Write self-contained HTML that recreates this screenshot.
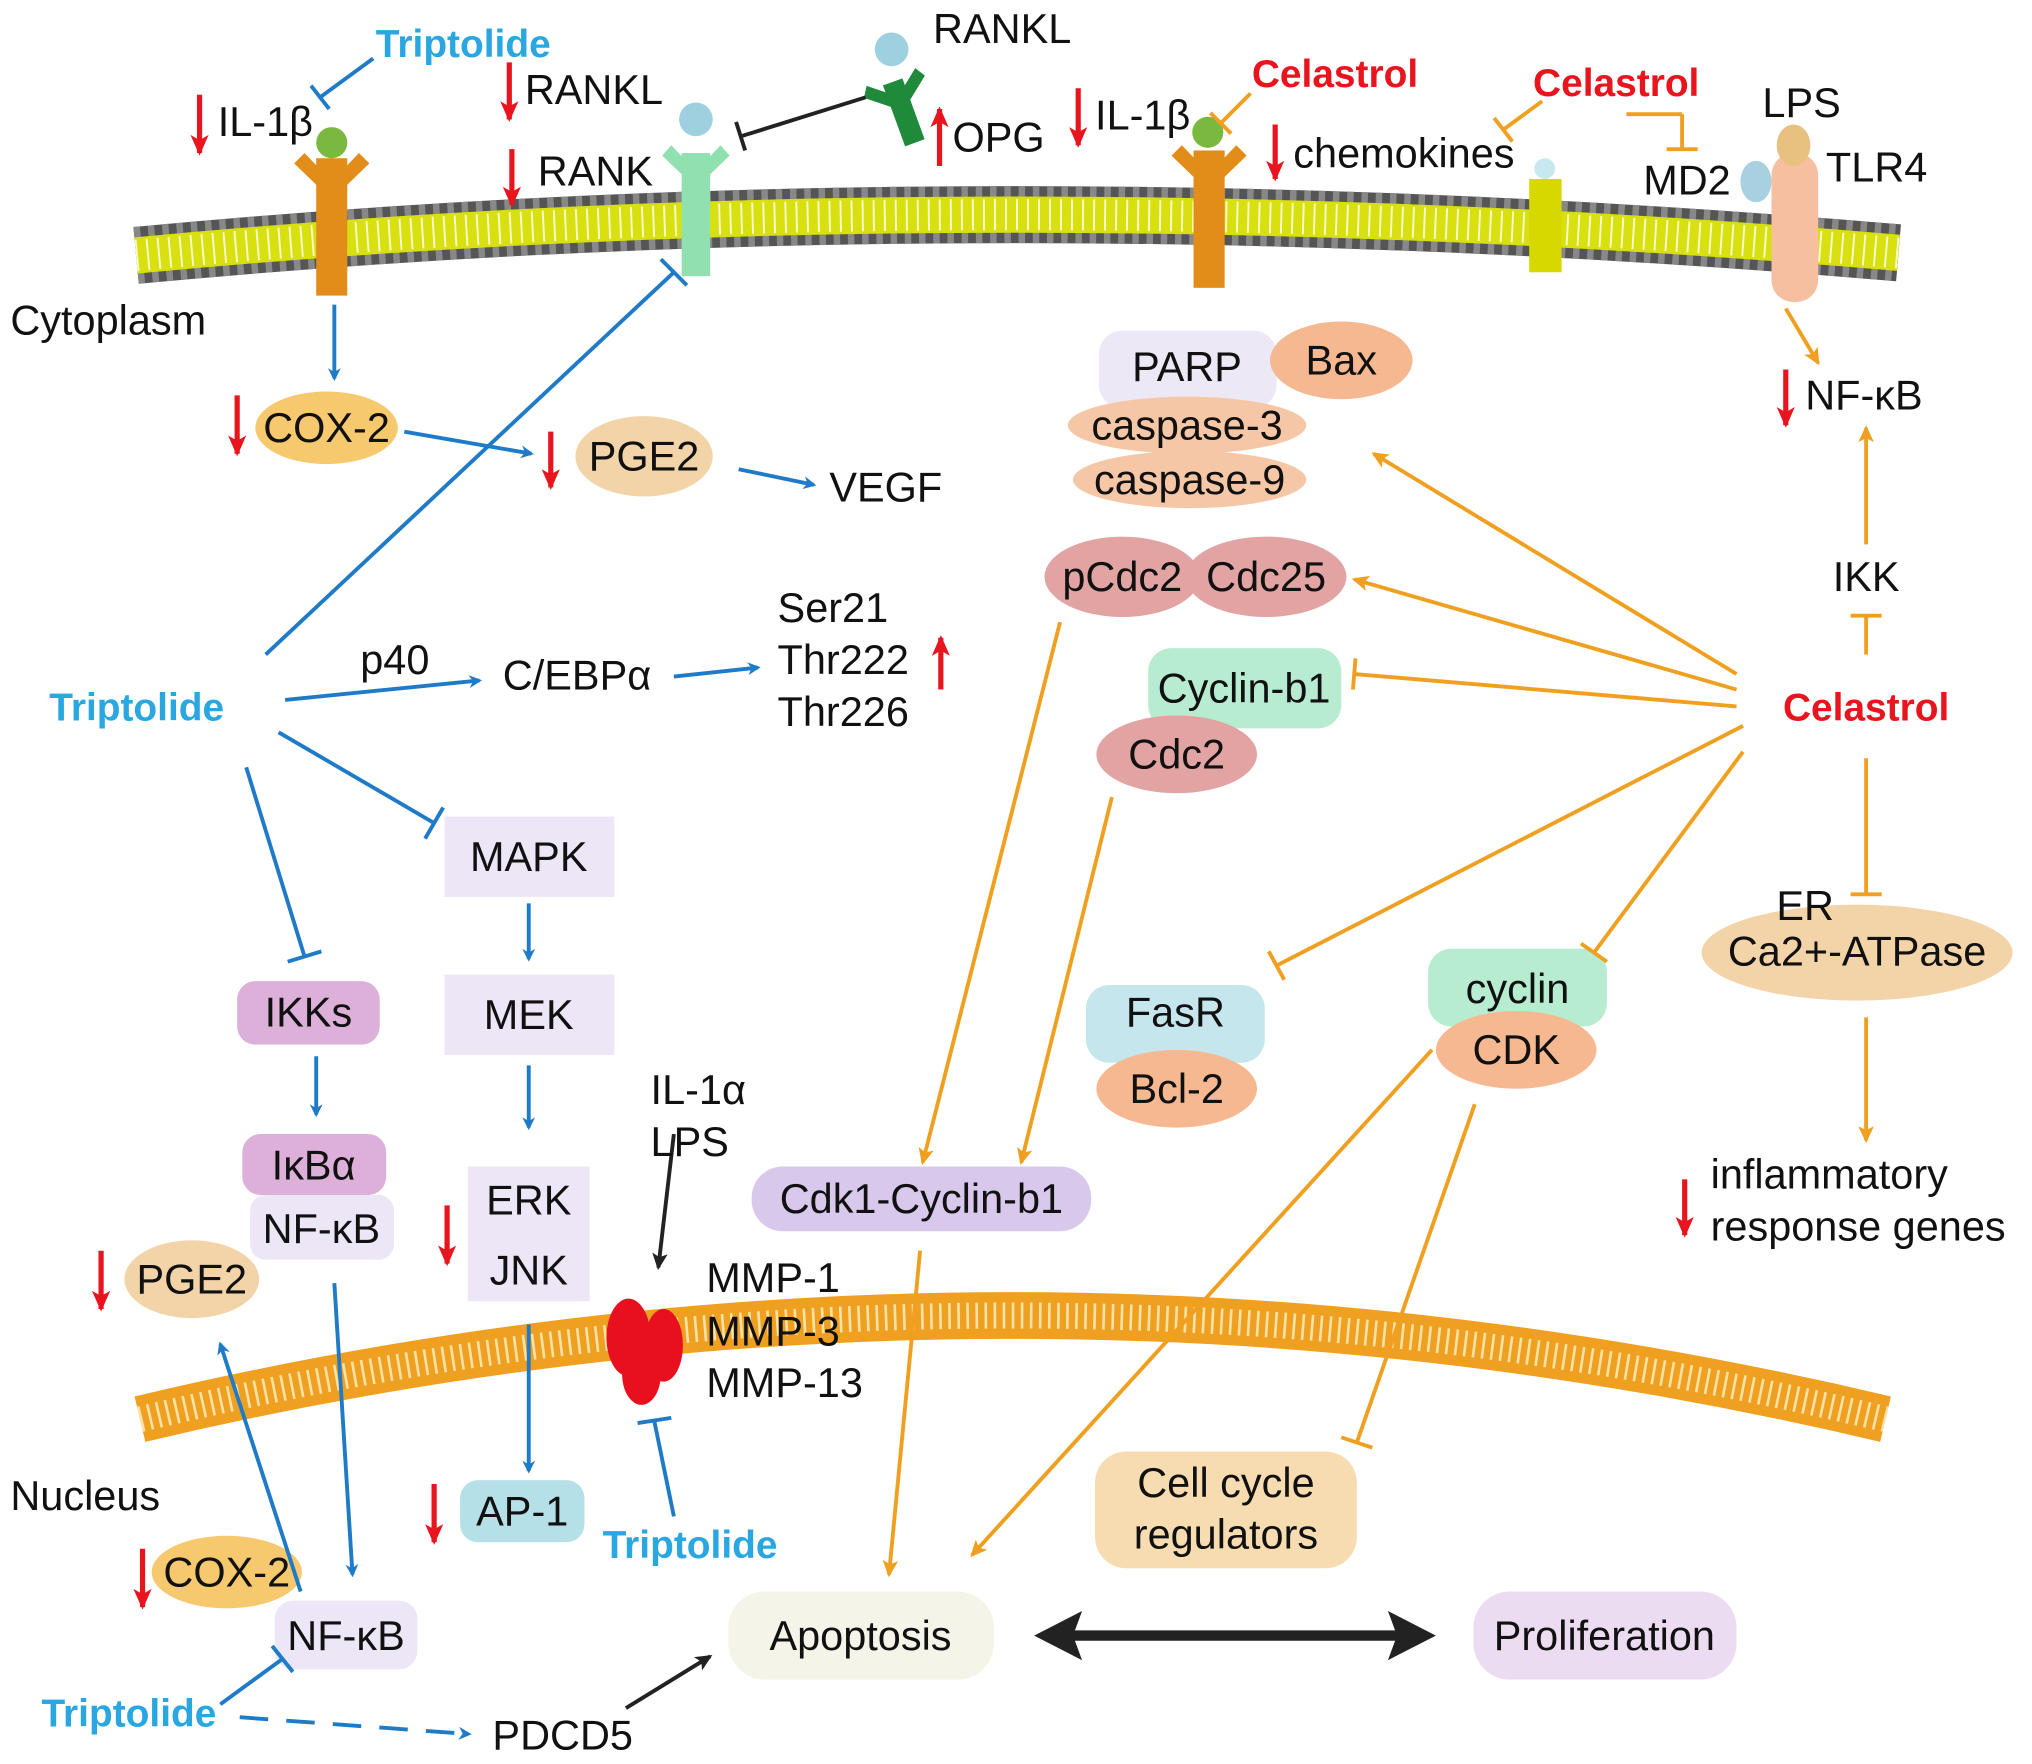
<!DOCTYPE html>
<html><head><meta charset="utf-8"><style>
html,body{margin:0;padding:0;background:#fff;}
svg{display:block;}
text{font-family:"Liberation Sans",Arial,sans-serif;font-size:32px;fill:#111;}
.tb{fill:#2aa7e0;font-weight:bold;font-size:30px;}
.cr{fill:#e8141e;font-weight:bold;font-size:30px;}
.m{text-anchor:middle;}
</style></head><body>
<svg width="2032" height="1764" viewBox="0 0 1568 1361" xmlns="http://www.w3.org/2000/svg">
<defs>
<marker id="ab" markerWidth="10" markerHeight="10" refX="8" refY="5" orient="auto" markerUnits="userSpaceOnUse" viewBox="0 0 10 10"><path d="M0,0 L10,5 L0,10 L3,5z" fill="#1f7bc8"/></marker>
<marker id="ao" markerWidth="14" markerHeight="14" refX="11" refY="7" orient="auto" markerUnits="userSpaceOnUse" viewBox="0 0 14 14"><path d="M0,1 L13,7 L0,13 L3,7z" fill="#f0a020"/></marker>
<marker id="ak" markerWidth="14" markerHeight="14" refX="11" refY="7" orient="auto" markerUnits="userSpaceOnUse" viewBox="0 0 14 14"><path d="M0,1 L13,7 L0,13 L3,7z" fill="#222"/></marker>
<marker id="ar" markerWidth="16" markerHeight="14" refX="14" refY="7" orient="auto" markerUnits="userSpaceOnUse" viewBox="0 0 16 14"><path d="M0,0 L16,7 L0,14 L4,7z" fill="#e8141e"/></marker>
</defs>

<path d="M105,197 Q760,135 1465,195" fill="none" stroke="#555" stroke-width="44"/>
<path d="M105,197 Q760,135 1465,195" fill="none" stroke="#888" stroke-width="44" stroke-dasharray="5 6"/>
<path d="M105,197 Q760,135 1465,195" fill="none" stroke="#d8e010" stroke-width="28"/>
<path d="M105,197 Q760,135 1465,195" fill="none" stroke="#fff" stroke-width="24" stroke-dasharray="1.5 7" opacity="0.8"/>

<path d="M108,1095 Q780,935 1455,1095" fill="none" stroke="#f0a020" stroke-width="36"/>
<path d="M108,1095 Q780,935 1455,1095" fill="none" stroke="#fbe3a8" stroke-width="20" stroke-dasharray="2 5"/>

<g fill="#e28c1a">
<rect x="244" y="122" width="24" height="106"/><path d="M235,118 L256,140 L277,118 L285,126 L256,154 L227,126z"/>
<rect x="921" y="116" width="24" height="106"/><path d="M912,112 L933,134 L954,112 L962,120 L933,148 L904,120z"/>
</g>
<circle cx="256" cy="110" r="12" fill="#7ab840"/><circle cx="932" cy="102" r="12" fill="#7ab840"/>
<rect x="526" y="118" width="22" height="95" fill="#90e0b0"/><path d="M518,112 L537,132 L556,112 L563,120 L537,145 L511,120z" fill="#90e0b0"/>
<circle cx="537" cy="92" r="13" fill="#9fd0e0"/>
<g transform="rotate(-20 695 80)"><rect x="687" y="62" width="16" height="50" fill="#1e8a3a"/><path d="M675,58 L695,74 L715,58 L720,66 L695,86 L670,66z" fill="#1e8a3a"/></g>
<circle cx="688" cy="38" r="13" fill="#9fd0e0"/>
<rect x="1180" y="138" width="25" height="72" fill="#d6d800"/><circle cx="1192" cy="130" r="8" fill="#c8e8f0"/>
<rect x="1367" y="118" width="36" height="115" rx="17" fill="#f6c0a0"/>
<ellipse cx="1384" cy="112" rx="13" ry="16" fill="#e8c080"/>
<ellipse cx="1355" cy="140" rx="12" ry="16" fill="#a8d0e0"/>

<g fill="#e8101e"><ellipse cx="485" cy="1032" rx="17" ry="30"/><ellipse cx="512" cy="1038" rx="15" ry="28"/><ellipse cx="495" cy="1060" rx="15" ry="24"/></g>

<g>
<ellipse cx="252" cy="330" rx="55" ry="28" fill="#f7c96e"/>
<ellipse cx="497" cy="352" rx="53" ry="31" fill="#f2d4a8"/>
<rect x="848" y="255" width="137" height="60" rx="18" fill="#ece8f6"/>
<ellipse cx="1035" cy="278" rx="55" ry="30" fill="#f6b891"/>
<ellipse cx="916" cy="328" rx="92" ry="22" fill="#f6c7a6"/>
<ellipse cx="918" cy="370" rx="90" ry="22" fill="#f6c7a6"/>
<ellipse cx="866" cy="445" rx="60" ry="31" fill="#e2a3a3"/>
<ellipse cx="977" cy="445" rx="62" ry="31" fill="#e2a3a3"/>
<rect x="886" y="500" width="149" height="62" rx="18" fill="#b8ecd0"/>
<ellipse cx="908" cy="582" rx="62" ry="30" fill="#e2a3a3"/>
<rect x="838" y="760" width="138" height="60" rx="18" fill="#c6e6ee"/>
<ellipse cx="908" cy="840" rx="62" ry="30" fill="#f6b891"/>
<rect x="1102" y="732" width="138" height="60" rx="18" fill="#b8ecd0"/>
<ellipse cx="1170" cy="810" rx="62" ry="30" fill="#f6b891"/>
<ellipse cx="1433" cy="735" rx="120" ry="37" fill="#f2d4a8"/>
<rect x="580" y="900" width="262" height="50" rx="24" fill="#d8c8ec"/>
<rect x="845" y="1120" width="202" height="90" rx="24" fill="#f6dcb0"/>
<rect x="562" y="1228" width="205" height="68" rx="28" fill="#f4f4e8"/>
<rect x="1137" y="1228" width="203" height="68" rx="28" fill="#ecdcf2"/>
<rect x="343" y="630" width="131" height="62" fill="#ece6f6"/>
<rect x="343" y="752" width="131" height="62" fill="#ece6f6"/>
<rect x="361" y="900" width="94" height="52" fill="#ece6f6"/>
<rect x="361" y="952" width="94" height="52" fill="#ece6f6"/>
<rect x="183" y="757" width="110" height="49" rx="14" fill="#dcb0d8"/>
<rect x="187" y="875" width="111" height="47" rx="14" fill="#dcb0d8"/>
<rect x="193" y="922" width="111" height="50" rx="12" fill="#ece6f6"/>
<ellipse cx="148" cy="987" rx="52" ry="30" fill="#f2d4a8"/>
<rect x="355" y="1142" width="96" height="48" rx="14" fill="#b6e0e8"/>
<ellipse cx="175" cy="1213" rx="58" ry="28" fill="#f7c96e"/>
<rect x="212" y="1235" width="110" height="53" rx="14" fill="#ece6f6"/>
</g>

<g stroke="#1f7bc8" stroke-width="3" fill="none">
<line x1="258" y1="235" x2="258" y2="292" marker-end="url(#ab)"/>
<line x1="312" y1="333" x2="410" y2="350" marker-end="url(#ab)"/>
<line x1="570" y1="362" x2="628" y2="374" marker-end="url(#ab)"/>
<line x1="205" y1="505" x2="520" y2="210"/><line x1="510" y1="200" x2="530" y2="220"/>
<line x1="220" y1="540" x2="370" y2="525" marker-end="url(#ab)"/>
<line x1="520" y1="522" x2="585" y2="515" marker-end="url(#ab)"/>
<line x1="215" y1="565" x2="335" y2="635"/><line x1="328" y1="647" x2="342" y2="623"/>
<line x1="190" y1="592" x2="235" y2="738"/><line x1="222" y1="742" x2="248" y2="734"/>
<line x1="408" y1="697" x2="408" y2="740" marker-end="url(#ab)"/>
<line x1="408" y1="822" x2="408" y2="870" marker-end="url(#ab)"/>
<line x1="244" y1="815" x2="244" y2="860" marker-end="url(#ab)"/>
<line x1="258" y1="990" x2="272" y2="1215" marker-end="url(#ab)"/>
<line x1="408" y1="1022" x2="408" y2="1135" marker-end="url(#ab)"/>
<line x1="232" y1="1228" x2="170" y2="1037" marker-end="url(#ab)"/>
<line x1="520" y1="1170" x2="505" y2="1097"/><line x1="492" y1="1098" x2="518" y2="1094"/>
<line x1="170" y1="1315" x2="218" y2="1280"/><line x1="210" y1="1270" x2="226" y2="1290"/>
<line x1="185" y1="1325" x2="362" y2="1338" stroke-dasharray="22 14" marker-end="url(#ab)"/>
<line x1="288" y1="45" x2="247" y2="75"/><line x1="240" y1="66" x2="254" y2="84"/>
</g>
<g stroke="#222" stroke-width="3" fill="none">
<line x1="668" y1="75" x2="572" y2="105"/><line x1="568" y1="94" x2="575" y2="116"/>
<line x1="520" y1="875" x2="508" y2="978" marker-end="url(#ak)"/>
<line x1="483" y1="1318" x2="548" y2="1278" marker-end="url(#ak)"/>
</g>
<line x1="820" y1="1262" x2="1085" y2="1262" stroke="#222" stroke-width="8"/>
<path d="M798,1262 L835,1243 L828,1262 L835,1281z M1108,1262 L1071,1243 L1078,1262 L1071,1281z" fill="#222"/>

<g stroke="#f0a020" stroke-width="3" fill="none">
<line x1="1340" y1="520" x2="1060" y2="350" marker-end="url(#ao)"/>
<line x1="1340" y1="532" x2="1045" y2="447" marker-end="url(#ao)"/>
<line x1="1340" y1="545" x2="1045" y2="520"/><line x1="1046" y1="508" x2="1044" y2="532"/>
<line x1="1345" y1="560" x2="985" y2="745"/><line x1="979" y1="734" x2="991" y2="756"/>
<line x1="1345" y1="580" x2="1230" y2="735"/><line x1="1220" y1="728" x2="1240" y2="742"/>
<line x1="1440" y1="585" x2="1440" y2="690"/><line x1="1428" y1="690" x2="1452" y2="690"/>
<line x1="1440" y1="505" x2="1440" y2="475"/><line x1="1428" y1="475" x2="1452" y2="475"/>
<line x1="1440" y1="420" x2="1440" y2="330" marker-end="url(#ao)"/>
<line x1="1378" y1="238" x2="1403" y2="280" marker-end="url(#ao)"/>
<line x1="1440" y1="785" x2="1440" y2="880" marker-end="url(#ao)"/>
<line x1="818" y1="480" x2="712" y2="897" marker-end="url(#ao)"/>
<line x1="858" y1="615" x2="788" y2="897" marker-end="url(#ao)"/>
<line x1="710" y1="965" x2="686" y2="1215" marker-end="url(#ao)"/>
<line x1="1105" y1="810" x2="750" y2="1200" marker-end="url(#ao)"/>
<line x1="1138" y1="852" x2="1047" y2="1113"/><line x1="1035" y1="1109" x2="1059" y2="1117"/>
<line x1="1190" y1="78" x2="1160" y2="100"/><line x1="1153" y1="91" x2="1167" y2="109"/>
<line x1="1255" y1="88" x2="1298" y2="88"/><line x1="1298" y1="88" x2="1298" y2="115"/><line x1="1286" y1="115" x2="1310" y2="115"/>
<line x1="965" y1="72" x2="942" y2="95"/><line x1="934" y1="87" x2="950" y2="103"/>
</g>

<g stroke="#e8141e" stroke-width="4" marker-end="url(#ar)">
<line x1="154" y1="73" x2="154" y2="118"/>
<line x1="393" y1="48" x2="393" y2="92"/>
<line x1="395" y1="115" x2="395" y2="158"/>
<line x1="183" y1="305" x2="183" y2="350"/>
<line x1="425" y1="333" x2="425" y2="376"/>
<line x1="832" y1="68" x2="832" y2="112"/>
<line x1="984" y1="96" x2="984" y2="138"/>
<line x1="1378" y1="285" x2="1378" y2="328"/>
<line x1="345" y1="930" x2="345" y2="975"/>
<line x1="78" y1="965" x2="78" y2="1010"/>
<line x1="335" y1="1145" x2="335" y2="1190"/>
<line x1="110" y1="1195" x2="110" y2="1240"/>
<line x1="1300" y1="910" x2="1300" y2="953"/>
<line x1="725" y1="128" x2="725" y2="84"/>
<line x1="726" y1="532" x2="726" y2="492"/>
</g>

<text x="290" y="44" class="tb">Triptolide</text>
<text x="168" y="105">IL-1β</text>
<text x="405" y="80">RANKL</text>
<text x="415" y="143">RANK</text>
<text x="720" y="33">RANKL</text>
<text x="735" y="117">OPG</text>
<text x="966" y="67" class="cr">Celastrol</text>
<text x="845" y="100">IL-1β</text>
<text x="998" y="129">chemokines</text>
<text x="1183" y="74" class="cr">Celastrol</text>
<text x="1360" y="90">LPS</text>
<text x="1409" y="140">TLR4</text>
<text x="1268" y="150">MD2</text>
<text x="8" y="258">Cytoplasm</text>
<text x="252" y="341" class="m">COX-2</text>
<text x="497" y="363" class="m">PGE2</text>
<text x="640" y="387">VEGF</text>
<text x="916" y="294" class="m">PARP</text>
<text x="1035" y="289" class="m">Bax</text>
<text x="916" y="339" class="m">caspase-3</text>
<text x="918" y="381" class="m">caspase-9</text>
<text x="1393" y="316">NF-κB</text>
<text x="866" y="456" class="m">pCdc2</text>
<text x="977" y="456" class="m">Cdc25</text>
<text x="1440" y="456" class="m">IKK</text>
<text x="960" y="542" class="m">Cyclin-b1</text>
<text x="908" y="593" class="m">Cdc2</text>
<text x="1440" y="556" class="cr m">Celastrol</text>
<text x="600" y="480">Ser21</text>
<text x="600" y="520">Thr222</text>
<text x="600" y="560">Thr226</text>
<text x="278" y="520">p40</text>
<text x="388" y="532">C/EBPα</text>
<text x="38" y="556" class="tb">Triptolide</text>
<text x="408" y="672" class="m">MAPK</text>
<text x="408" y="794" class="m">MEK</text>
<text x="238" y="792" class="m">IKKs</text>
<text x="242" y="910" class="m">IκBα</text>
<text x="248" y="959" class="m">NF-κB</text>
<text x="408" y="937" class="m">ERK</text>
<text x="408" y="991" class="m">JNK</text>
<text x="148" y="998" class="m">PGE2</text>
<text x="502" y="852">IL-1α</text>
<text x="502" y="892">LPS</text>
<text x="545" y="997">MMP-1</text>
<text x="545" y="1038">MMP-3</text>
<text x="545" y="1078">MMP-13</text>
<text x="1393" y="710" class="m">ER</text>
<text x="1433" y="745" class="m">Ca2+-ATPase</text>
<text x="907" y="792" class="m">FasR</text>
<text x="908" y="851" class="m">Bcl-2</text>
<text x="1171" y="774" class="m">cyclin</text>
<text x="1170" y="821" class="m">CDK</text>
<text x="711" y="936" class="m">Cdk1-Cyclin-b1</text>
<text x="1320" y="917">inflammatory</text>
<text x="1320" y="957">response genes</text>
<text x="8" y="1165">Nucleus</text>
<text x="403" y="1177" class="m">AP-1</text>
<text x="465" y="1202" class="tb">Triptolide</text>
<text x="946" y="1155" class="m">Cell cycle</text>
<text x="946" y="1195" class="m">regulators</text>
<text x="175" y="1224" class="m">COX-2</text>
<text x="267" y="1273" class="m">NF-κB</text>
<text x="664" y="1273" class="m">Apoptosis</text>
<text x="1238" y="1273" class="m">Proliferation</text>
<text x="32" y="1332" class="tb">Triptolide</text>
<text x="380" y="1350">PDCD5</text>
</svg>
</body></html>
